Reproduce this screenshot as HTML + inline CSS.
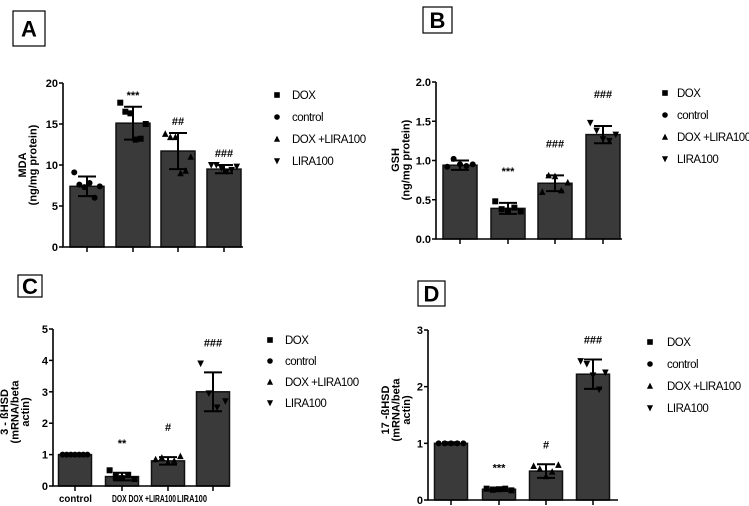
<!DOCTYPE html>
<html><head><meta charset="utf-8"><style>
html,body{margin:0;padding:0;background:#fff;}
svg{display:block;font-family:"Liberation Sans",Arial,sans-serif;}
</style></head><body>
<svg id="fig" width="749" height="506" viewBox="0 0 749 506"></svg>
<script>
const categories = ["control","DOX","DOX +LIRA100","LIRA100"];
const meansA = [7.4,15.1,11.7,9.5];
const sdA = [1.2,2.0,2.2,0.5];
const ptsA = [[9.1,7.6,7.3,7.8,6.0,7.4],[17.6,16.5,16.3,13.1,13.2,15.0],[13.8,13.4,13.4,9.0,9.3,11.0],[10.0,10.0,9.6,9.2,9.4,9.8]];
const ticksA = [0,5,10,15,20];
const annA = ["","***","##","###"];
const meansB = [0.94,0.39,0.71,1.33];
const sdB = [0.06,0.07,0.10,0.11];
const ptsB = [[0.92,1.02,0.95,0.93,0.95],[0.48,0.38,0.36,0.40,0.35],[0.60,0.81,0.80,0.62,0.72],[1.48,1.38,1.27,1.25,1.33]];
const ticksB = [0,0.5,1.0,1.5,2.0];
const annB = ["","***","###","###"];
const meansC = [1.0,0.3,0.8,3.0];
const sdC = [0.03,0.12,0.12,0.62];
const ptsC = [[1,1,1,1,1,1,1],[0.5,0.3,0.25,0.35,0.22],[0.85,0.9,0.75,0.8,0.95],[3.9,2.95,2.5,2.7]];
const ticksC = [0,1,2,3,4,5];
const annC = ["","**","#","###"];
const meansD = [1.0,0.19,0.51,2.22];
const sdD = [0.02,0.03,0.12,0.26];
const ptsD = [[1,1,1,1,1],[0.2,0.18,0.19,0.2,0.17],[0.6,0.55,0.42,0.5,0.62],[2.45,2.4,2.2,1.95,2.25]];
const ticksD = [0,1,2,3];
const annD = ["","***","#","###"];
const shapes = ["circle","square","tri","itri"];
const legendOrder = [["square","DOX"],["circle","control"],["tri","DOX +LIRA100"],["itri","LIRA100"]];

const NS="http://www.w3.org/2000/svg";
const svg=document.getElementById("fig");
function mk(tag,attrs,parent){const e=document.createElementNS(NS,tag);for(const k in attrs)e.setAttribute(k,attrs[k]);(parent||svg).appendChild(e);return e;}
function marker(shape,x,y,s,g){
  let e;
  if(shape==="circle")e=mk("circle",{cx:x,cy:y,r:s,fill:"#000"},g);
  else if(shape==="square")e=mk("rect",{x:x-s,y:y-s,width:2*s,height:2*s,fill:"#000"},g);
  else if(shape==="tri")e=mk("polygon",{points:`${x},${y-s*1.2} ${x-s*1.1},${y+s} ${x+s*1.1},${y+s}`,fill:"#000"},g);
  else e=mk("polygon",{points:`${x},${y+s*1.2} ${x-s*1.1},${y-s} ${x+s*1.1},${y-s}`,fill:"#000"},g);
  return e;
}
function panel(p){
  const g=mk("g",{});
  
  
  const bx=mk("rect",{x:p.box[0],y:p.box[1],width:p.box[2],height:p.box[3],fill:"#fff",stroke:"#000","stroke-width":1.2},g);
  
  
  const bt=mk("text",{x:p.box[0]+p.box[2]/2,y:p.box[1]+p.box[3]/2+8,"text-anchor":"middle","font-size":22,"font-weight":"bold"},g);
  bt.textContent=p.id;
  
  
  const ymax=p.ticks[p.ticks.length-1];
  const Y=v=>p.y0-(v/ymax)*(p.y0-p.ytop);
  const X=i=>p.xs[i];
  p.means.forEach((m,i)=>{
    const r=mk("rect",{x:X(i)-p.bw/2,y:Y(m),width:p.bw,height:p.y0-Y(m),fill:"#3a3a3a",stroke:"#111","stroke-width":1.5},g);
    
    
  });
  p.pts.forEach((arr,i)=>{
    arr.forEach((v,j)=>{
      const off=(j-(arr.length-1)/2)*(p.bw*0.75/Math.max(arr.length-1,1));
      const e=marker(shapes[i],X(i)+off,Y(v),3,g);
      
      
    });
  });
  p.means.forEach((m,i)=>{
    const s=p.sd[i];
    const eb=mk("path",{d:`M${X(i)},${Y(m+s)}V${Y(m-s)}M${X(i)-9},${Y(m+s)}H${X(i)+9}M${X(i)-9},${Y(m-s)}H${X(i)+9}`,stroke:"#000","stroke-width":2,fill:"none"},g);
    
    
    if(p.ann[i]){
      const t=mk("text",{x:X(i),y:Y(m+s)-p.annGap,"text-anchor":"middle","font-size":11,"font-weight":"bold"},g);
      t.textContent=p.ann[i];
      
      
    }
  });
  const ax=mk("path",{d:`M${p.x0},${p.ytop}V${p.y0}H${p.xend}`,stroke:"#000","stroke-width":1.6,fill:"none"},g);
  
  
  p.ticks.forEach(v=>{
    mk("line",{x1:p.x0-4,x2:p.x0,y1:Y(v),y2:Y(v),stroke:"#000","stroke-width":1.5},g);
    const t=mk("text",{x:p.x0-5,y:Y(v)+4,"text-anchor":"end","font-size":11,"font-weight":"bold"},g);
    t.textContent=p.fmt(v);
    
    
  });
  p.means.forEach((m,i)=>{mk("line",{x1:X(i),x2:X(i),y1:p.y0,y2:p.y0+5,stroke:"#000","stroke-width":1.5},g);});
  if(p.xlabels){
    const xl=[[59,"control",33],[112,"DOX DOX +LIRA100",64],[177,"LIRA100",30]];
    xl.forEach(([x,s,w])=>{
      const t=mk("text",{x:x,y:p.y0+16,"font-size":10.5,"font-weight":"bold",textLength:w,lengthAdjust:"spacingAndGlyphs"},g);
      t.textContent=s;
      
      
    });
  }
  const yt=mk("text",{transform:`translate(${p.ylx},${p.yly}) rotate(-90)`,"text-anchor":"middle","font-size":11,"font-weight":"bold"},g);
  
  
  p.ytitle.forEach((s,k)=>{const ts=mk("tspan",{x:0,dy:k===0?0:10.5},yt);ts.textContent=s;});
  legendOrder.forEach(([sh,lab],k)=>{
    const y=p.leg[1]+k*p.leg[2];
    const lm=marker(sh,p.leg[0],y,2.8,g);
    
    
    const t=mk("text",{x:p.leg[3],y:y+4,"font-size":11.5,"letter-spacing":"-0.5"},g);
    t.textContent=lab;
    
    
  });
}
panel({id:"A",box:[13,11,32,35],means:meansA,sd:sdA,pts:ptsA,ticks:ticksA,ann:annA,fmt:v=>String(v),
  x0:63,y0:247,ytop:83,xend:243,xs:[87,133,178,224],bw:34,annGap:8,ylx:26,yly:165,ytitle:["MDA","(ng/mg protein)"],leg:[277,95,22,292]});
panel({id:"B",box:[423,7,29,26],means:meansB,sd:sdB,pts:ptsB,ticks:ticksB,ann:annB,fmt:v=>v.toFixed(1),
  x0:436,y0:239,ytop:82,xend:622,xs:[460,508,555,603],bw:34,annGap:28,ylx:399,yly:160,ytitle:["GSH","(ng/mg protein)"],leg:[665,93,22,677]});
panel({id:"C",box:[18,275,24,22],means:meansC,sd:sdC,pts:ptsC,ticks:ticksC,ann:annC,fmt:v=>String(v),
  x0:53,y0:486,ytop:329,xend:230,xs:[75,122,168,213],bw:33,annGap:26,ylx:8,yly:412,ytitle:["3 - ßHSD","(mRNA/beta","actin)"],leg:[270,340,21,285],xlabels:true});
panel({id:"D",box:[418,281,27,25],means:meansD,sd:sdD,pts:ptsD,ticks:ticksD,ann:annD,fmt:v=>String(v),
  x0:428,y0:500,ytop:330,xend:618,xs:[451,499,546,593],bw:33,annGap:16,ylx:389,yly:410,ytitle:["17 -ßHSD","(mRNA/beta","actin)"],leg:[650,342,22,667]});
</script>
</body></html>
